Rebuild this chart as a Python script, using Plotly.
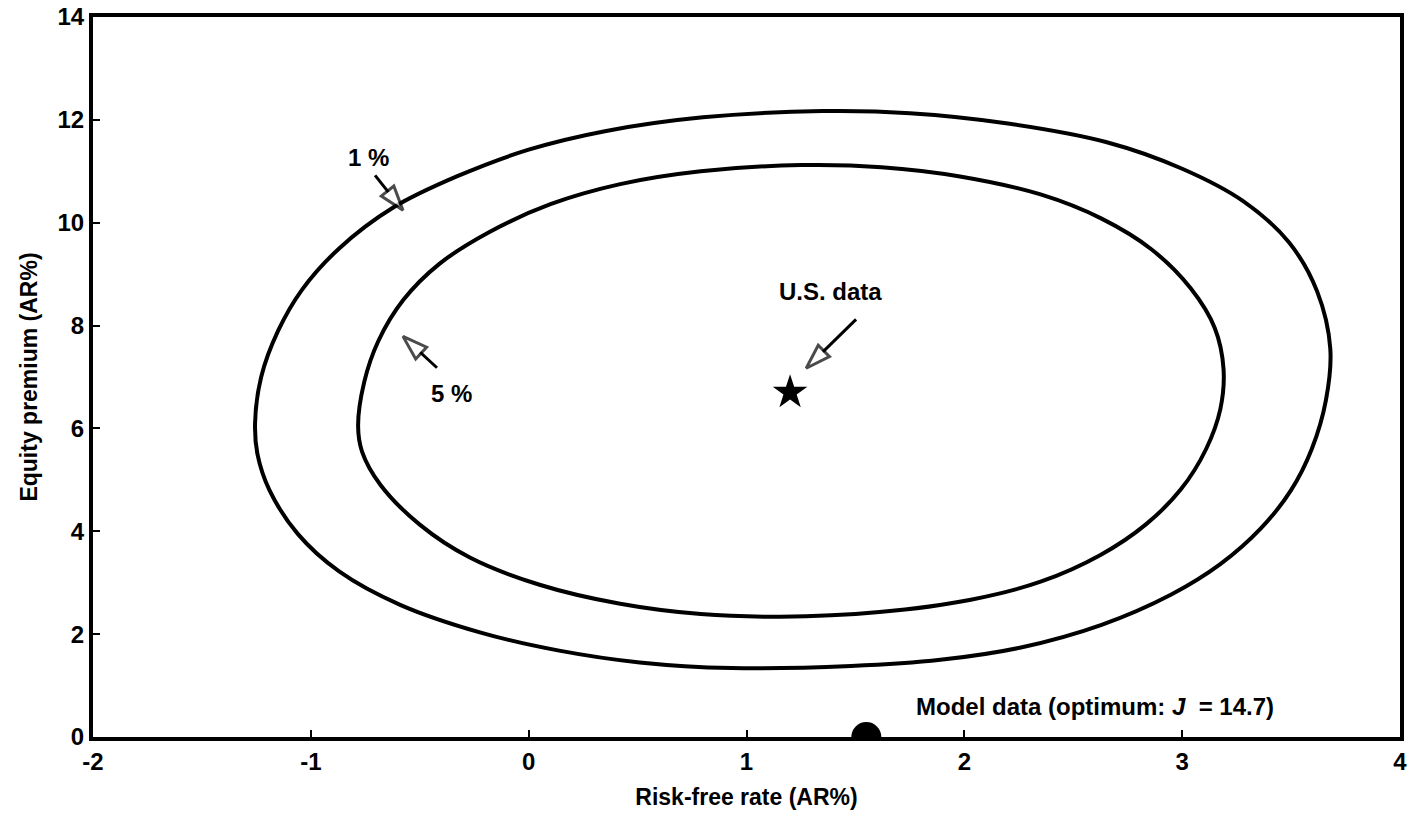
import plotly.graph_objects as go

# ---- data ----
outer_x = [-1.256, -1.228, -1.150, -1.040, -0.870, -0.620, -0.330, 0.000, 0.350, 0.800, 1.350, 1.750,
           2.200, 2.650, 3.000, 3.280, 3.490, 3.620, 3.680, 3.660, 3.595, 3.500, 3.360, 3.175, 2.950,
           2.630, 2.260, 1.890, 1.480, 0.930, 0.510, 0.140, -0.220, -0.590, -0.870, -1.060, -1.190,
           -1.245, -1.256]
outer_y = [6.10, 7.00, 7.90, 8.70, 9.50, 10.30, 10.90, 11.42, 11.78, 12.05, 12.17, 12.13,
           11.93, 11.57, 11.05, 10.42, 9.62, 8.66, 7.55, 6.55, 5.60, 4.80, 4.05, 3.36, 2.77,
           2.18, 1.74, 1.50, 1.38, 1.34, 1.45, 1.68, 2.03, 2.57, 3.22, 3.95, 4.80,
           5.50, 6.10]

inner_x = [-0.783, -0.755, -0.690, -0.575, -0.410, -0.180, 0.100, 0.420, 0.790, 1.250, 1.620, 1.980,
           2.350, 2.630, 2.860, 3.040, 3.150, 3.190, 3.175, 3.110, 2.995, 2.835, 2.625, 2.350,
           2.030, 1.610, 1.155, 0.790, 0.420, 0.050, -0.270, -0.500, -0.680, -0.765, -0.783]
inner_y = [6.05, 6.90, 7.70, 8.50, 9.20, 9.82, 10.36, 10.75, 11.00, 11.12, 11.08, 10.90,
           10.55, 10.08, 9.48, 8.72, 7.95, 7.15, 6.37, 5.60, 4.82, 4.14, 3.54, 3.02,
           2.67, 2.43, 2.34, 2.39, 2.59, 2.96, 3.49, 4.13, 4.90, 5.55, 6.05]

us_data_x = [1.20]
us_data_y = [6.70]

model_data_x = [1.55]
model_data_y = [0.0]

x_ticks = [-2, -1, 0, 1, 2, 3, 4]
y_ticks = [0, 2, 4, 6, 8, 10, 12, 14]

FONT = "Liberation Sans, Arial, sans-serif"

fig = go.Figure()

for cx, cy in ((outer_x, outer_y), (inner_x, inner_y)):
    fig.add_trace(go.Scatter(x=cx, y=cy, mode="lines",
                             line=dict(color="black", width=4, shape="spline", smoothing=1.0),
                             showlegend=False, hoverinfo="skip"))

fig.add_trace(go.Scatter(x=us_data_x, y=us_data_y, mode="markers",
                         marker=dict(symbol="star", size=26, color="black"),
                         showlegend=False))
fig.add_trace(go.Scatter(x=model_data_x, y=model_data_y, mode="markers", cliponaxis=True,
                         marker=dict(symbol="circle", size=30, color="black"),
                         showlegend=False))

# annotation arrows (tail -> tip) with hollow heads
arrows = [
    ((-0.705, 10.92), (-0.577, 10.24)),
    ((-0.421, 7.18), (-0.577, 7.79)),
    ((1.503, 8.12), (1.274, 7.17)),
]
for (tx, ty), (hx, hy) in arrows:
    fig.add_trace(go.Scatter(
        x=[tx, hx], y=[ty, hy], mode="lines+markers",
        line=dict(color="black", width=3),
        marker=dict(symbol="arrow", size=[0, 26], angleref="previous",
                    color="white", line=dict(color="black", width=3)),
        showlegend=False, hoverinfo="skip"))

texts = [
    (-0.737, 11.27, "<b>1 %</b>"),
    (-0.352, 6.68, "<b>5 %</b>"),
    (1.384, 8.66, "<b>U.S. data</b>"),
    (2.60, 0.60, "<b>Model data (optimum: <i>J</i>  = 14.7)</b>"),
]
for x, y, t in texts:
    fig.add_annotation(x=x, y=y, text=t, showarrow=False,
                       font=dict(family=FONT, size=24, color="black"))

fig.update_layout(
    width=1425, height=823,
    margin=dict(l=93, r=25, t=17, b=86),
    paper_bgcolor="white", plot_bgcolor="white",
    font=dict(family=FONT, color="black"),
)
fig.update_xaxes(range=[-2, 4], tickvals=x_ticks, ticktext=[f"<b>{v}</b>" for v in x_ticks],
                 showgrid=False, zeroline=False, showline=True, linecolor="black", linewidth=4,
                 mirror=True, ticks="inside", ticklen=7, tickwidth=2, tickcolor="black",
                 ticklabeloverflow="allow", automargin=False,
                 tickfont=dict(family=FONT, size=24, color="black"),
                 title=dict(text="<b>Risk-free rate (AR%)</b>", font=dict(family=FONT, size=23),
                            standoff=16))
fig.update_yaxes(range=[0, 14], tickvals=y_ticks, ticktext=[f"<b>{v}</b>" for v in y_ticks],
                 showgrid=False, zeroline=False, showline=True, linecolor="black", linewidth=4,
                 mirror=True, ticks="inside", ticklen=7, tickwidth=2, tickcolor="black",
                 ticklabeloverflow="allow", automargin=False,
                 tickfont=dict(family=FONT, size=24, color="black"),
                 title=dict(text="<b>Equity premium (AR%)</b>", font=dict(family=FONT, size=23),
                            standoff=14))

# remove the page's default body margin so the figure fills the window exactly
fig.write_html("out.html", config={"displayModeBar": False},
               post_script="document.body.style.margin='0px';document.body.style.overflow='hidden';")
